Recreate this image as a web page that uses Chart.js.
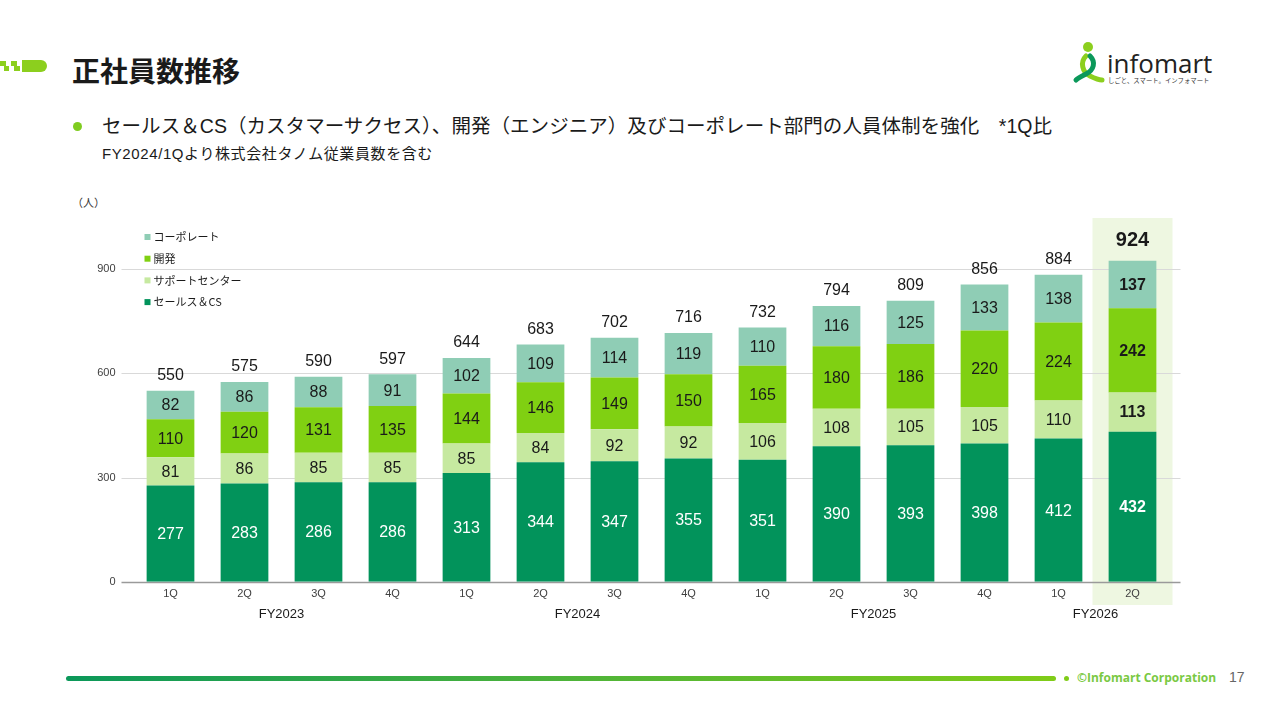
<!DOCTYPE html>
<html lang="ja">
<head>
<meta charset="utf-8">
<script src="https://cdn.jsdelivr.net/npm/chart.js@4"></script>
<style>
  html, body { margin: 0; padding: 0; background: #fff; }
  body { width: 1280px; height: 720px; position: relative; overflow: hidden;
         font-family: "Liberation Sans", "Noto Sans CJK JP", sans-serif; color: #1a1a1a; }
  .abs { position: absolute; white-space: nowrap; }
  #title { left: 72px; top: 50px; font-size: 28px; font-weight: bold; font-family: "Noto Sans CJK JP", sans-serif; }
  #bullet { left: 72px; top: 110px; font-size: 19.5px; letter-spacing: 0.05px; font-family: "Liberation Sans", "Noto Sans CJK JP", sans-serif; }
  #bullet .dot { display: inline-block; width: 9px; height: 9px; border-radius: 50%; background: #7fcc20; margin: 0 20px 2px 1px; vertical-align: middle; }
  #note { left: 102px; top: 142px; font-size: 15px; letter-spacing: 0.6px; font-family: "Liberation Sans", "Noto Sans CJK JP", sans-serif; }
  #unit { left: 72px; top: 194px; font-size: 11px; color: #333; font-family: "Noto Sans CJK JP", sans-serif; }
  #chartBox { position: absolute; left: 0; top: 190px; width: 1280px; height: 442px; }
  #footLine { left: 66px; top: 676px; width: 990px; height: 5px; border-radius: 3px;
              background: linear-gradient(90deg, #0b985a, #4db33a 50%, #80cc18); }
  #footDot { left: 1064px; top: 676px; width: 5px; height: 5px; border-radius: 50%; background: #80cc18; }
  #copy { left: 1077px; top: 669px; font-size: 12px; font-weight: bold; color: #7ac943; font-family: "Open Sans", sans-serif; }
  #page { left: 1229px; top: 669px; font-size: 14px; color: #666; }
  #logoText { left: 1107px; top: 45px; font-size: 26px; color: #222; font-family: "Open Sans", sans-serif; }
  #logoSub { left: 1108px; top: 76px; font-size: 6.4px; color: #333; font-family: "Noto Sans CJK JP", sans-serif; }
</style>
</head>
<body>
<svg class="abs" style="left:0;top:58px" width="50" height="16">
  <rect x="0" y="3" width="6" height="5" fill="#8ccf1e"/>
  <rect x="4" y="8" width="5" height="5" fill="#8ccf1e"/>
  <rect x="11" y="3" width="6" height="5" fill="#8ccf1e"/>
  <rect x="14" y="8" width="6" height="5" fill="#8ccf1e"/>
  <path d="M22 2 H41 A6 6 0 0 1 41 14 H22 Z" fill="#8ccf1e"/>
</svg>
<div id="title" class="abs">正社員数推移</div>
<div id="bullet" class="abs"><span class="dot"></span>セールス＆CS（カスタマーサクセス）、開発（エンジニア）及びコーポレート部門の人員体制を強化　*1Q比</div>
<div id="note" class="abs">FY2024/1Qより株式会社タノム従業員数を含む</div>
<div id="unit" class="abs">（人）</div>

<svg class="abs" style="left:1072px;top:40px" width="34" height="46">
  <circle cx="16" cy="7" r="5" fill="#8ccf1e"/>
  <path d="M14 16 C8 22 10 32 18 36 C24 39 28 40 30 40" stroke="#8ccf1e" stroke-width="5" fill="none" stroke-linecap="round"/>
  <path d="M18 16 C24 22 22 30 14 34 C10 36 6 38 4 40" stroke="#0b985a" stroke-width="5" fill="none" stroke-linecap="round"/>
</svg>
<div id="logoText" class="abs">infomart</div>
<div id="logoSub" class="abs">しごと、スマート。インフォマート</div>

<div id="chartBox"><canvas id="staffChart"></canvas></div>

<div id="footLine" class="abs"></div>
<div id="footDot" class="abs"></div>
<div id="copy" class="abs">©Infomart Corporation</div>
<div id="page" class="abs">17</div>

<script>
const quarters = ['1Q', '2Q', '3Q', '4Q', '1Q', '2Q', '3Q', '4Q', '1Q', '2Q', '3Q', '4Q', '1Q', '2Q'];
const fiscalYears = ['FY2023', 'FY2024', 'FY2025', 'FY2026'];
const fiscalYearSpan = [[0, 3], [4, 7], [8, 11], [12, 13]];
const salesCS = [277, 283, 286, 286, 313, 344, 347, 355, 351, 390, 393, 398, 412, 432];
const supportCenter = [81, 86, 85, 85, 85, 84, 92, 92, 106, 108, 105, 105, 110, 113];
const development = [110, 120, 131, 135, 144, 146, 149, 150, 165, 180, 186, 220, 224, 242];
const corporate = [82, 86, 88, 91, 102, 109, 114, 119, 110, 116, 125, 133, 138, 137];
const totals = [550, 575, 590, 597, 644, 683, 702, 716, 732, 794, 809, 856, 884, 924];
const yTicks = [0, 300, 600, 900];

const numFont = '"Liberation Sans", Arial, sans-serif';
const jpFont = '"Noto Sans CJK JP", sans-serif';
const lastIndex = quarters.length - 1;

// background highlight + gridlines (drawn before scales so labels sit on top)
const backdropPlugin = {
    id: 'backdrop',
    beforeDraw(chart) {
        const { ctx, chartArea, scales } = chart;
        const xs = scales.x, ys = scales.y;
        ctx.save();
        const hx = xs.getPixelForValue(lastIndex);
        ctx.fillStyle = '#eef7e1';
        ctx.fillRect(hx - 40, chartArea.top + 1, 80, 414 - chartArea.top);
        const left = chartArea.left - 12, right = chartArea.right + 11;
        yTicks.forEach(v => {
            const y = Math.round(ys.getPixelForValue(v)) + 0.5;
            ctx.strokeStyle = v === 0 ? '#9a9a9a' : '#d9d9d9';
            ctx.lineWidth = v === 0 ? 1.5 : 1.2;
            ctx.beginPath();
            ctx.moveTo(left, y);
            ctx.lineTo(right, y);
            ctx.stroke();
        });
        ctx.restore();
    }
};

const labelPlugin = {
    id: 'barLabels',
    afterDatasetsDraw(chart) {
        const { ctx, scales } = chart;
        ctx.save();
        ctx.textAlign = 'center';
        ctx.textBaseline = 'middle';
        chart.data.datasets.forEach((ds, i) => {
            const meta = chart.getDatasetMeta(i);
            meta.data.forEach((bar, j) => {
                const bold = j === lastIndex;
                ctx.font = (bold ? 'bold ' : '') + '16px ' + numFont;
                ctx.fillStyle = i === 0 ? '#ffffff' : '#1a1a1a';
                ctx.fillText(String(ds.data[j]), bar.x, (bar.y + bar.base) / 2 + 1);
            });
        });
        // totals
        totals.forEach((t, j) => {
            const x = scales.x.getPixelForValue(j);
            const y = scales.y.getPixelForValue(t);
            const bold = j === lastIndex;
            ctx.font = bold ? 'bold 20px ' + numFont : '16px ' + numFont;
            ctx.fillStyle = '#1a1a1a';
            ctx.fillText(String(t), x, y - (bold ? 20 : 15));
        });
        // fiscal year group labels
        ctx.font = '13px ' + numFont;
        fiscalYears.forEach((fy, k) => {
            const [a, b] = fiscalYearSpan[k];
            const x = (scales.x.getPixelForValue(a) + scales.x.getPixelForValue(b)) / 2;
            ctx.fillText(fy, x, scales.x.bottom - 18);
        });
        ctx.restore();
    },
    afterDraw(chart) {
        // legend inside the plot, top-left
        const { ctx, chartArea } = chart;
        const order = [3, 2, 1, 0];
        ctx.save();
        ctx.textBaseline = 'middle';
        ctx.textAlign = 'left';
        ctx.font = '11px ' + jpFont;
        order.forEach((di, r) => {
            const ds = chart.data.datasets[di];
            const y = chartArea.top + 20 + r * 21.7;
            const x = chartArea.left + 11;
            ctx.fillStyle = ds.backgroundColor;
            ctx.fillRect(x, y - 3, 6, 6);
            ctx.fillStyle = '#1a1a1a';
            ctx.fillText(ds.label, x + 9, y);
        });
        ctx.restore();
    }
};

const ctx = document.getElementById('staffChart').getContext('2d');
new Chart(ctx, {
    type: 'bar',
    data: {
        labels: quarters,
        datasets: [
            { label: 'セールス＆CS', data: salesCS, backgroundColor: '#02935b' },
            { label: 'サポートセンター', data: supportCenter, backgroundColor: '#c6e9a0' },
            { label: '開発', data: development, backgroundColor: '#80d012' },
            { label: 'コーポレート', data: corporate, backgroundColor: '#8fcdb5' }
        ]
    },
    options: {
        responsive: true,
        maintainAspectRatio: false,
        animation: false,
        datasets: { bar: { categoryPercentage: 1, barPercentage: 0.645 } },
        layout: { padding: { top: 27, right: 110.5, left: 0, bottom: 0 } },
        plugins: { legend: { display: false }, tooltip: { enabled: false } },
        scales: {
            x: {
                stacked: true,
                grid: { display: false, drawTicks: false },
                border: { display: false },
                ticks: { color: '#404040', font: { size: 11, family: numFont }, padding: 6, maxRotation: 0, autoSkip: false },
                afterFit(scale) { scale.height = 50.3; }
            },
            y: {
                stacked: true,
                min: 0,
                max: 1050,
                grid: { display: false, drawTicks: false },
                border: { display: false },
                afterBuildTicks(scale) { scale.ticks = yTicks.map(v => ({ value: v })); },
                ticks: { color: '#404040', font: { size: 11, family: numFont }, padding: 18 },
                afterFit(scale) { scale.width = 133.5; }
            }
        }
    },
    plugins: [backdropPlugin, labelPlugin]
});
</script>
</body>
</html>
